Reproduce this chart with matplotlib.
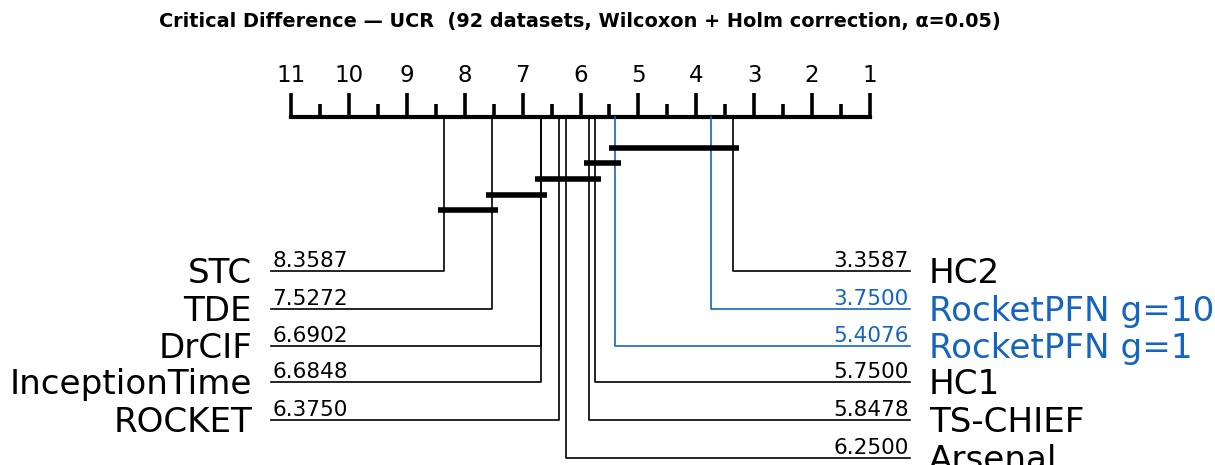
import matplotlib.pyplot as plt
import numpy as np

# average ranks (lower is better)
left_names = ['STC', 'TDE', 'DrCIF', 'InceptionTime', 'ROCKET']
left_ranks = [8.3587, 7.5272, 6.6902, 6.6848, 6.3750]
right_names = ['HC2', 'RocketPFN g=10', 'RocketPFN g=1', 'HC1', 'TS-CHIEF', 'Arsenal']
right_ranks = [3.3587, 3.7500, 5.4076, 5.7500, 5.8478, 6.2500]

# groups with no significant difference
cliques = [
    ['HC2', 'RocketPFN g=10', 'RocketPFN g=1'],
    ['RocketPFN g=1', 'HC1', 'TS-CHIEF'],
    ['HC1', 'TS-CHIEF', 'Arsenal', 'ROCKET', 'InceptionTime'],
    ['InceptionTime', 'DrCIF', 'TDE'],
    ['TDE', 'STC'],
]

n_methods = 11
highlight = ['RocketPFN g=10', 'RocketPFN g=1']
blue = '#1565c0'

title = 'Critical Difference \u2014 UCR  (92 datasets, Wilcoxon + Holm correction, \u03b1=0.05)'

W, H = 1215, 465
px_per_rank = 57.9
x0 = 291  # pixel of the worst rank

def rank_at(px):
    return n_methods - (px - x0) / px_per_rank

fig = plt.figure(figsize=(W / 100, H / 100), dpi=100)
ax = fig.add_axes([0, 0, 1, 1])
ax.set_xlim(rank_at(0), rank_at(W))
ax.set_ylim(H, 0)
ax.axis('off')

axis_y = 117
ax.plot([n_methods, 1], [axis_y, axis_y], color='k', lw=3, solid_capstyle='projecting')
for r in np.arange(1, n_methods + 0.01, 0.5):
    top = 93 if r == int(r) else 104
    ax.plot([r, r], [top, axis_y], color='k', lw=2.6, solid_capstyle='butt')
    if r == int(r):
        ax.text(r, 82, str(int(r)), ha='center', va='baseline', fontsize=16.5)

rows = [271, 309, 346, 382, 420, 458]

for i, (name, r) in enumerate(zip(left_names, left_ranks)):
    y = rows[i]
    c = blue if name in highlight else 'k'
    ax.plot([r, r, rank_at(271)], [axis_y, y, y], color=c, lw=1.2)
    ax.text(rank_at(272), y - 4.5, '%.4f' % r, ha='left', va='baseline', fontsize=15.5, color=c)
    ax.text(rank_at(252), y + 11.5, name, ha='right', va='baseline', fontsize=24.6, color=c)

for i, (name, r) in enumerate(zip(right_names, right_ranks)):
    y = rows[i]
    c = blue if name in highlight else 'k'
    ax.plot([r, r, rank_at(910)], [axis_y, y, y], color=c, lw=1.2)
    ax.text(rank_at(909), y - 4.5, '%.4f' % r, ha='right', va='baseline', fontsize=15.5, color=c)
    ax.text(rank_at(929), y + 11.5, name, ha='left', va='baseline', fontsize=24.6, color=c)

all_ranks = dict(zip(left_names + right_names, left_ranks + right_ranks))
bar_rows = [148, 163, 179, 195, 210]
for members, y in zip(cliques, bar_rows):
    rs = [all_ranks[m] for m in members]
    ax.plot([max(rs) + 0.1, min(rs) - 0.1], [y, y], color='k', lw=4, solid_capstyle='butt')

ax.text(rank_at(580), 22, title, ha='center', va='center', fontsize=13.9, fontweight='bold')

plt.savefig('out.png', dpi=100)
